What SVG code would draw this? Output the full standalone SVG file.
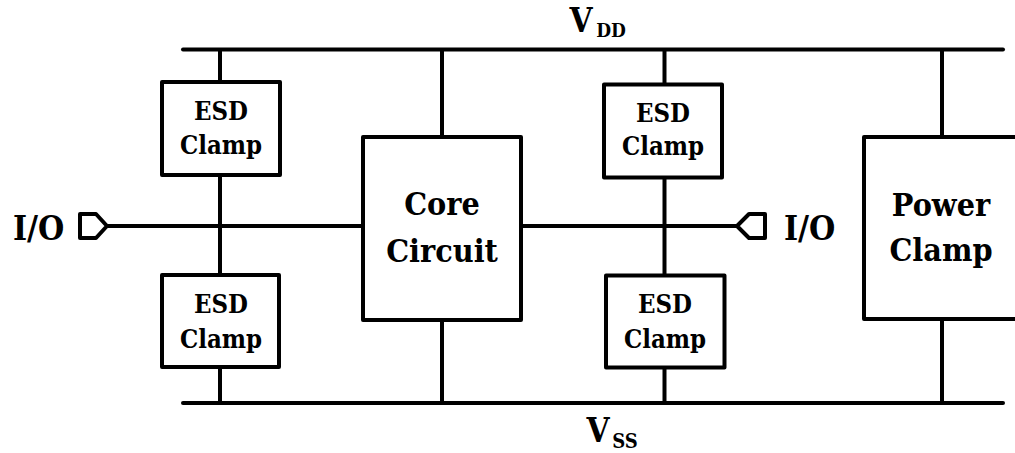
<svg xmlns="http://www.w3.org/2000/svg" width="1015" height="453" viewBox="0 0 1015 453">
<style>
.w{stroke:#000;stroke-width:4;fill:none}
.b{stroke:#000;stroke-width:4;fill:#fff;stroke-linejoin:round}
text{font-family:'DejaVu Serif Condensed','DejaVu Serif',serif;font-stretch:condensed;font-weight:bold;fill:#000}
.t{text-anchor:middle}
.s{font-size:25.5px}
.l{font-size:32px}
.io{font-size:33.5px}
</style>
<rect width="1015" height="453" fill="#fff"/>
<g id="connectors">
<line class="w" x1="183" y1="49.5" x2="1003" y2="49.5" stroke-linecap="round" stroke-width="4.5"/>
<line class="w" x1="183" y1="403" x2="1003" y2="403" stroke-linecap="round" stroke-width="4.5"/>
<line class="w" x1="220" y1="49.5" x2="220" y2="403"/>
<line class="w" x1="442" y1="49.5" x2="442" y2="403"/>
<line class="w" x1="664.5" y1="49.5" x2="664.5" y2="403"/>
<line class="w" x1="942" y1="49.5" x2="942" y2="403"/>
<line class="w" x1="108" y1="226" x2="363" y2="226"/>
<line class="w" x1="521" y1="226" x2="736" y2="226"/>
</g>
<g id="vdd">
<text class="t" x="581" y="32" font-size="33">V</text>
<text class="t" x="611" y="37" font-size="19">DD</text>
</g>
<g id="vss">
<text class="t" x="598" y="442" font-size="33">V</text>
<text class="t" x="625" y="448" font-size="20">SS</text>
</g>
<g id="io-left">
<path class="b" d="M80,214 L96,214 L107,226 L96,238 L80,238 Z"/>
<text class="io" x="13" y="240">I/O</text>
</g>
<g id="io-right">
<path class="b" d="M765,214 L749,214 L737,226 L749,238 L765,238 Z"/>
<text class="io" x="784" y="240">I/O</text>
</g>
<g id="esd1">
<rect class="b" x="162" y="82" width="118" height="93"/>
<text class="t s" x="221" y="120">ESD</text>
<text class="t s" x="221" y="154">Clamp</text>
</g>
<g id="esd2">
<rect class="b" x="162" y="275" width="117" height="92"/>
<text class="t s" x="221" y="313">ESD</text>
<text class="t s" x="221" y="348">Clamp</text>
</g>
<g id="core">
<rect class="b" x="363" y="137" width="158" height="183"/>
<text class="t l" x="442" y="215">Core</text>
<text class="t l" x="442" y="262">Circuit</text>
</g>
<g id="esd3">
<rect class="b" x="604" y="84.5" width="118" height="93"/>
<text class="t s" x="663" y="122">ESD</text>
<text class="t s" x="663" y="155">Clamp</text>
</g>
<g id="esd4">
<rect class="b" x="606" y="275.5" width="118.5" height="92"/>
<text class="t s" x="665" y="313">ESD</text>
<text class="t s" x="665" y="348">Clamp</text>
</g>
<g id="power">
<rect class="b" x="864" y="137" width="160" height="182"/>
<text class="t l" x="941" y="216">Power</text>
<text class="t l" x="941" y="261">Clamp</text>
</g>
</svg>
